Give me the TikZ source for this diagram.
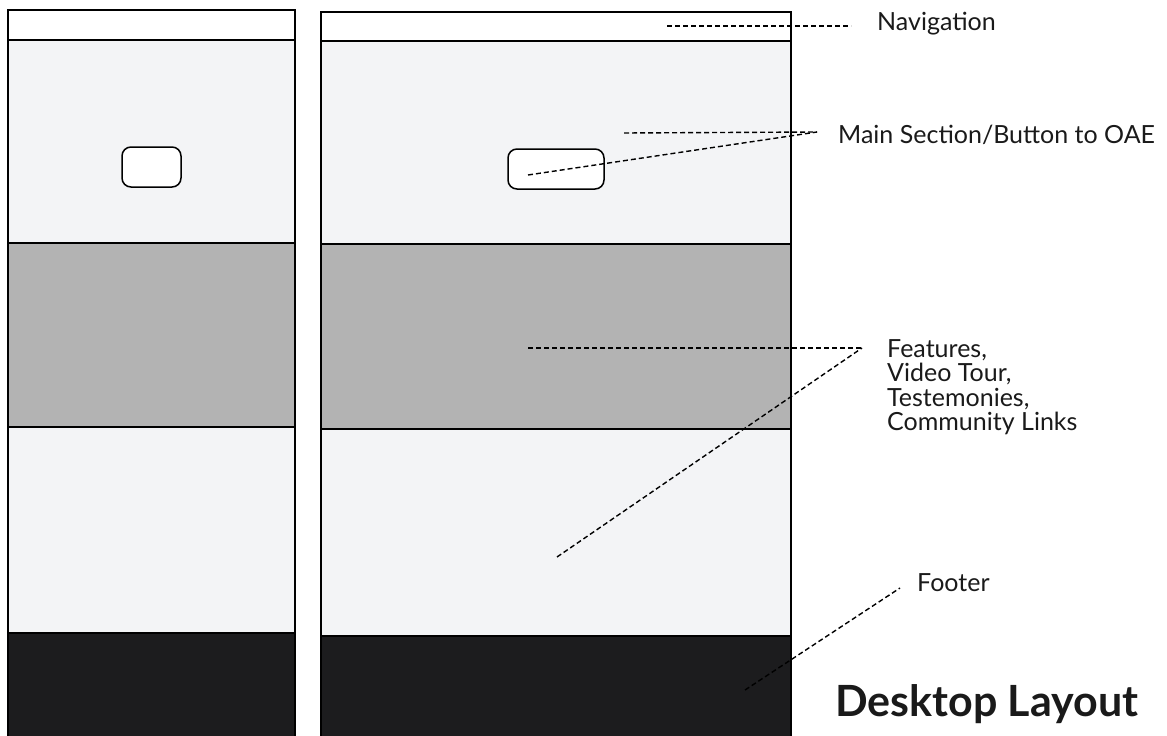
\documentclass[tikz,border=0pt]{standalone}
\usepackage{fontspec}
\setmainfont{Lato}
\definecolor{lightsec}{HTML}{F3F4F6}
\definecolor{graysec}{HTML}{B3B3B3}
\definecolor{darksec}{HTML}{1C1C1E}
\definecolor{inkc}{HTML}{1A1A1A}
\begin{document}
\begin{tikzpicture}[x=1pt,y=-1pt,
  sec/.style={draw=black,line width=1.6pt},
  btn/.style={draw=black,fill=white,line width=1.5pt,rounded corners=9pt},
  guide/.style={draw=black,line width=1.4pt,dash pattern=on 5pt off 3pt},
  lbl/.style={anchor=base west,inner sep=0pt,text=inkc,font=\fontsize{25}{24.5}\selectfont},
]
\useasboundingbox (0,0) rectangle (1167,736);
% left panel
\fill[white] (8,10) rectangle (295,40);
\fill[lightsec] (8,40) rectangle (295,243);
\fill[graysec] (8,243) rectangle (295,427);
\fill[lightsec] (8,427) rectangle (295,633);
\fill[darksec] (8,633) rectangle (295,740);
\draw[sec] (8,740) -- (8,10) -- (295,10) -- (295,740);
\draw[sec] (8,40) -- (295,40);
\draw[sec] (8,243) -- (295,243);
\draw[sec] (8,427) -- (295,427);
\draw[sec] (8,633) -- (295,633);
\node[btn,minimum width=59pt,minimum height=40pt,inner sep=0pt] (lbtn) at (151.5,167) {};
% right panel
\fill[white] (321,12) rectangle (791,41);
\fill[lightsec] (321,41) rectangle (791,244);
\fill[graysec] (321,244) rectangle (791,429);
\fill[lightsec] (321,429) rectangle (791,636);
\fill[darksec] (321,636) rectangle (791,740);
\draw[sec] (321,740) -- (321,12) -- (791,12) -- (791,740);
\draw[sec] (321,41) -- (791,41);
\draw[sec] (321,244) -- (791,244);
\draw[sec] (321,429) -- (791,429);
\draw[sec] (321,636) -- (791,636);
\node[btn,minimum width=96pt,minimum height=40pt,inner sep=0pt] (rbtn) at (556,169) {};
% labels
\node[lbl] (nav) at (877,30) {Navigation};
\node[lbl] (mainlbl) at (838,143) {Main Section/Button to OAE};
\node[lbl,align=left,anchor=north west] (feat) at (887,339) {Features,\\Video Tour,\\Testemonies,\\Community Links};
\node[lbl] (foot) at (917,591) {Footer};
\node[anchor=base west,inner sep=0pt,text=inkc,font=\fontsize{43}{46}\selectfont\bfseries] (title) at (835,716) {Desktop Layout};
% guide lines
\coordinate (navA) at (667,26);
\coordinate (navB) at (851,26);
\coordinate (mainA) at (624,133);
\coordinate (mainB) at (528,175);
\coordinate (mainC) at (817,132);
\coordinate (featA) at (528,348);
\coordinate (featB) at (557,557);
\coordinate (featC) at (862,348);
\coordinate (footA) at (745,690);
\coordinate (footB) at (900,588);
\draw[guide] (navA) -- (navB);
\draw[guide] (mainA) -- (mainC);
\draw[guide] (mainB) -- (mainC);
\draw[guide] (featA) -- (featC);
\draw[guide] (featB) -- (featC);
\draw[guide] (footA) -- (footB);
\end{tikzpicture}
\end{document}
